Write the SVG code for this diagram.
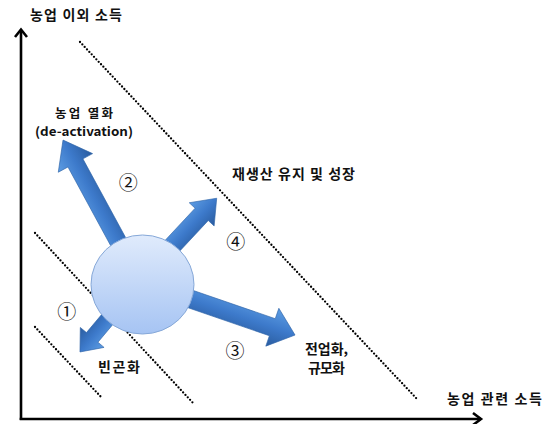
<svg xmlns="http://www.w3.org/2000/svg" width="545" height="424" viewBox="0 0 545 424">
<style>
.t{font-family:"Noto Sans CJK KR","Malgun Gothic",sans-serif;font-weight:bold;font-size:14px;fill:#111}
.s{font-size:12.5px}
.n{font-family:"Noto Sans CJK KR",sans-serif;font-size:19px;fill:#111;text-anchor:middle}
.dot{stroke:#000;stroke-width:2.3;stroke-linecap:round;stroke-dasharray:0 3.4;fill:none}
.axis{stroke:#000;stroke-width:2.6;fill:none}
.arr{fill:url(#ag);stroke:#2f64a8;stroke-width:0.6}
</style>
<defs>
<linearGradient id="ag" x1="0" y1="0" x2="0" y2="1">
<stop offset="0" stop-color="#5d9de3"/>
<stop offset="0.5" stop-color="#3d7acb"/>
<stop offset="1" stop-color="#2a5c9f"/>
</linearGradient>
<linearGradient id="cg" x1="0" y1="0" x2="0" y2="1">
<stop offset="0" stop-color="#e0ebfc"/>
<stop offset="1" stop-color="#a6c4f3"/>
</linearGradient>
</defs>
<rect width="545" height="424" fill="#fff"/>
<g id="connectors">
<line class="axis" x1="21" y1="420" x2="21" y2="30"/>
<polyline class="axis" points="15,37 21,29.5 27,37"/>
<line class="axis" x1="19.7" y1="419" x2="481" y2="419"/>
<polyline class="axis" points="473,413 481,419 473,425"/>
<line class="dot" x1="80" y1="42" x2="417" y2="399"/>
<line class="dot" x1="35" y1="233" x2="193" y2="403"/>
<line class="dot" x1="35" y1="327" x2="102" y2="398"/>
<path class="arr" transform="translate(134.6,271.9) rotate(-118.5)" d="M0,-8.5 L124,-8.5 L124,-19.5 L150,0 L124,19.5 L124,8.5 L0,8.5Z"/>
<path class="arr" transform="translate(148.5,271.4) rotate(-47)" d="M0,-9 L78,-9 L78,-17 L100,0 L78,17 L78,9 L0,9Z"/>
<path class="arr" transform="translate(153.2,286.2) rotate(19)" d="M0,-9 L126,-9 L126,-20 L150,0 L126,20 L126,9 L0,9Z"/>
<path class="arr" transform="translate(131.4,290.7) rotate(130)" d="M0,-7.5 L61,-7.5 L61,-15.5 L80,0 L61,15.5 L61,7.5 L0,7.5Z"/>
</g>
<g id="center">
<ellipse cx="142.5" cy="284.5" rx="51.5" ry="49.5" fill="url(#cg)" stroke="#86a8d8" stroke-width="1"/>
</g>
<g id="axis-y-label"><text class="t" x="30" y="19.5" textLength="92" lengthAdjust="spacing">농업 이외 소득</text></g>
<g id="axis-x-label"><text class="t" x="447" y="404" textLength="95" lengthAdjust="spacing">농업 관련 소득</text></g>
<g id="deactivation"><text class="t s" x="55" y="117.5" textLength="58" lengthAdjust="spacing">농업 열화</text><text class="t s" x="35" y="135.5" textLength="98" lengthAdjust="spacingAndGlyphs">(de-activation)</text></g>
<g id="reproduction"><text class="t" x="232" y="179" textLength="123" lengthAdjust="spacing">재생산 유지 및 성장</text></g>
<g id="poverty"><text class="t" x="98" y="372" textLength="42" lengthAdjust="spacing">빈곤화</text></g>
<g id="fulltime"><text class="t" x="305" y="354" textLength="43" lengthAdjust="spacing">전업화,</text><text class="t" x="308" y="373" textLength="37" lengthAdjust="spacing">규모화</text></g>
<g id="num1"><text class="n" x="66.7" y="319">①</text></g>
<g id="num2"><text class="n" x="128.3" y="190">②</text></g>
<g id="num3"><text class="n" x="235" y="357.5">③</text></g>
<g id="num4"><text class="n" x="235.8" y="249">④</text></g>
</svg>
